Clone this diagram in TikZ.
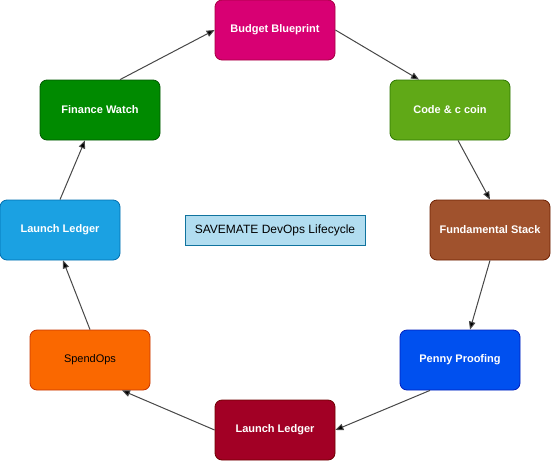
\documentclass[tikz,border=0pt]{standalone}
\usepackage{fontspec}
\setmainfont{Liberation Sans}
\usetikzlibrary{arrows.meta}
\definecolor{bbfill}{HTML}{D80073}\definecolor{bbline}{HTML}{A50040}
\definecolor{ccfill}{HTML}{60A917}\definecolor{ccline}{HTML}{2D7600}
\definecolor{fsfill}{HTML}{A0522D}\definecolor{fsline}{HTML}{6D1F00}
\definecolor{ppfill}{HTML}{0050EF}\definecolor{ppline}{HTML}{001DBC}
\definecolor{llfill}{HTML}{A20025}\definecolor{llline}{HTML}{6F0000}
\definecolor{sofill}{HTML}{FA6800}\definecolor{soline}{HTML}{C73500}
\definecolor{lbfill}{HTML}{1BA1E2}\definecolor{lbline}{HTML}{006EAF}
\definecolor{fwfill}{HTML}{008A00}\definecolor{fwline}{HTML}{005700}
\definecolor{tifill}{HTML}{B1DDF0}\definecolor{tiline}{HTML}{10739E}
\begin{document}
\begin{tikzpicture}[x=1pt,y=-1pt,
	stage/.style={rounded corners=7pt,line width=.8pt,minimum width=120pt,minimum height=60pt,
		text=white,font=\fontsize{11}{13}\selectfont\bfseries},
	flow/.style={line width=1pt,draw=black!72,-{Triangle[length=8pt,width=6.5pt,fill=black]}}]
	\useasboundingbox (0,0) rectangle (551,461);
	
	\node[stage,fill=bbfill,draw=bbline] (bb) at (275,30) {Budget Blueprint};
	\node[stage,fill=ccfill,draw=ccline] (cc) at (450,110) {Code \& c coin};
	\node[stage,fill=fsfill,draw=fsline] (fs) at (490,230) {Fundamental Stack};
	\node[stage,fill=ppfill,draw=ppline] (pp) at (460,360) {Penny Proofing};
	\node[stage,fill=llfill,draw=llline] (llb) at (275,430) {Launch Ledger};
	\node[stage,fill=sofill,draw=soline,text=black,font=\fontsize{11}{13}\selectfont] (so) at (90,360) {SpendOps};
	\node[stage,fill=lbfill,draw=lbline] (lll) at (60,230) {Launch Ledger};
	\node[stage,fill=fwfill,draw=fwline] (fw) at (100,110) {Finance Watch};
	
	\node[fill=tifill,draw=tiline,line width=.8pt,minimum width=180pt,minimum height=30pt,
		font=\fontsize{12}{14}\selectfont] (title) at (275,230) {SAVEMATE DevOps Lifecycle};
	
	\draw[flow] ([xshift=20pt]fw.north) -- (bb.west);
	\draw[flow] (bb.east) -- ([xshift=-31pt]cc.north);
	\draw[flow] ([xshift=8pt]cc.south) -- (fs.north);
	\draw[flow] (fs.south) -- ([xshift=10pt]pp.north);
	\draw[flow] ([xshift=-30pt]pp.south) -- (llb.east);
	\draw[flow] (llb.west) -- ([xshift=32pt]so.south);
	\draw[flow] (so.north) -- ([xshift=3pt]lll.south);
	\draw[flow] (lll.north) -- ([xshift=-15pt]fw.south);
\end{tikzpicture}
\end{document}
